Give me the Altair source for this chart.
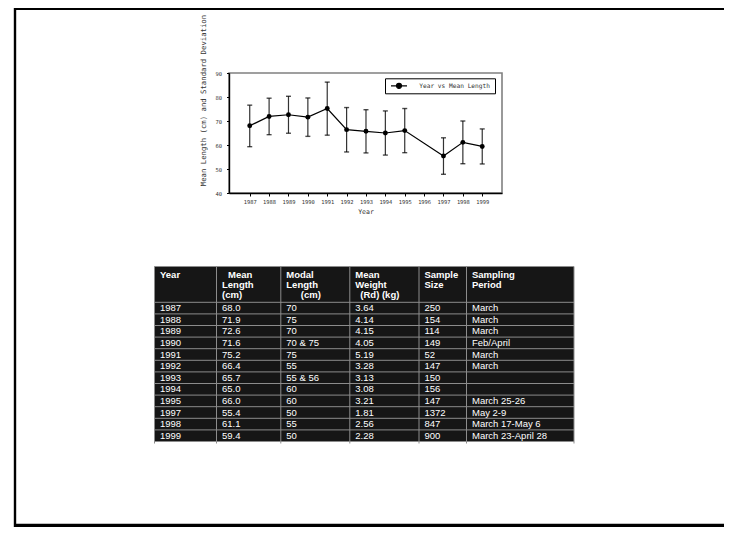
import altair as alt
import pandas as pd

# ---------------- data ----------------
years = [1987, 1988, 1989, 1990, 1991, 1992, 1993, 1994, 1995, 1997, 1998, 1999]
mean_length = [68.0, 71.9, 72.6, 71.6, 75.2, 66.4, 65.7, 65.0, 66.0, 55.4, 61.1, 59.4]
sd_upper = [76.6, 79.5, 80.3, 79.6, 86.2, 75.6, 74.7, 74.2, 75.2, 63.0, 70.0, 66.7]
sd_lower = [59.3, 64.3, 64.9, 63.6, 64.1, 57.1, 56.7, 55.8, 56.8, 47.8, 52.2, 52.1]
tick_years = [1987, 1988, 1989, 1990, 1991, 1992, 1993, 1994, 1995, 1996, 1997, 1998, 1999]
y_ticks = [40, 50, 60, 70, 80, 90]
legend_label = "Year vs Mean Length"

modal_length = ["70", "75", "70", "70 & 75", "75", "55", "55 & 56", "60", "60", "50", "55", "50"]
mean_weight = ["3.64", "4.14", "4.15", "4.05", "5.19", "3.28", "3.13", "3.08", "3.21", "1.81", "2.56", "2.28"]
sample_size = ["250", "154", "114", "149", "52", "147", "150", "156", "147", "1372", "847", "900"]
sampling_period = ["March", "March", "March", "Feb/April", "March", "March", "", "",
                   "March 25-26", "May 2-9", "March 17-May 6", "March 23-April 28"]
header_lines = [["Year"], ["Mean", "Length", "(cm)"], ["Modal", "Length", "(cm)"],
                ["Mean", "Weight", "(Rd) (kg)"], ["Sample", "Size"], ["Sampling", "Period"]]

# ---------------- layout ----------------
MONO = "DejaVu Sans Mono"
SANS = "Liberation Sans"
W, H = 716, 519
PLOT_L, PLOT_R, PLOT_T, PLOT_B = 221, 494, 65, 185
X_DOMAIN = [1985.93, 2000.02]
Y_DOMAIN = [40, 90]

col_edges = [146.5, 208.5, 272.8, 341.8, 411.0, 458.5, 566.0]
T_TOP, HDR_BOT, ROW_H = 258.5, 294.3, 11.6
N_ROWS = len(years)
T_BOT = HDR_BOT + ROW_H * N_ROWS
CELL_PAD = 5.5
HDR_LINE_Y = [267, 277, 287]
HDR_INDENT = {(1, 0): 6.0, (2, 2): 14.5, (3, 2): 5.0}
FRAME_LEFT, FRAME_TOP, FRAME_BOTTOM = 7, 1, H - 1.7

# ---------------- plot ----------------
xs = alt.Scale(domain=X_DOMAIN, range=[PLOT_L, PLOT_R], nice=False, zero=False)
ys = alt.Scale(domain=Y_DOMAIN, range=[PLOT_B, PLOT_T], nice=False, zero=False)

x_axis = alt.Axis(orient="bottom", values=tick_years, format="d", offset=-(H - PLOT_B),
                  domain=True, ticks=True, labels=True,
                  domainColor="black", domainWidth=1.4, tickColor="black", tickWidth=1,
                  tickSize=3, labelFont=MONO, labelFontSize=5.4, labelColor="#333",
                  labelPadding=3, labelFlush=False, labelOverlap=False, grid=False,
                  title="Year", titleFont=MONO, titleFontSize=6.5, titleFontWeight="normal",
                  titleColor="#333", titleY=18, titleBaseline="middle", zindex=1)
y_axis = alt.Axis(orient="left", values=y_ticks, offset=-PLOT_L,
                  domain=True, ticks=True, labels=True,
                  domainColor="black", domainWidth=1.4, tickColor="black", tickWidth=1,
                  tickSize=2.5, labelFont=MONO, labelFontSize=5.5, labelColor="#333",
                  labelPadding=5, grid=False,
                  title="Mean Length (cm) and Standard Deviation", titleFont=MONO,
                  titleFontSize=7.3, titleFontWeight="normal", titleColor="#333",
                  titleAngle=270, titleX=-26, titleY=92, titleAlign="center",
                  titleBaseline="middle", zindex=1)

df = pd.DataFrame({"year": years, "mean": mean_length, "lower": sd_lower, "upper": sd_upper,
                   "series": legend_label})
one = pd.DataFrame({"k": [0]})

X = alt.X("year:Q", scale=xs, axis=x_axis)

box = alt.Chart(one).mark_rect(fillOpacity=0, stroke="#808080", strokeWidth=1.6).encode(
    x=alt.X(datum=X_DOMAIN[0], type="quantitative", scale=xs, axis=x_axis),
    x2=alt.X2(datum=X_DOMAIN[1]),
    y=alt.Y(datum=Y_DOMAIN[0], type="quantitative", scale=ys, axis=y_axis),
    y2=alt.Y2(datum=Y_DOMAIN[1]),
)
bars = alt.Chart(df).mark_rule(color="#333", strokeWidth=1.2).encode(
    x=X, y=alt.Y("lower:Q", scale=ys, axis=y_axis), y2="upper:Q")
cap_hi = alt.Chart(df).mark_tick(orient="horizontal", size=5, thickness=1.4, color="black").encode(
    x=X, y=alt.Y("upper:Q", scale=ys, axis=y_axis))
cap_lo = alt.Chart(df).mark_tick(orient="horizontal", size=5, thickness=1.4, color="black").encode(
    x=X, y=alt.Y("lower:Q", scale=ys, axis=y_axis))
line = alt.Chart(df).mark_line(color="black", strokeWidth=1.2).encode(
    x=X, y=alt.Y("mean:Q", scale=ys, axis=y_axis))

# legend symbol: short line with a dot; trailing move widens the legend box
SYMBOL = ("M-2,0L2,0M-0.62,0A0.62,0.62,0,1,1,0.62,0A0.62,0.62,0,1,1,-0.62,0ZM22.6,0")
leg = alt.Legend(title=None, orient="none", legendX=377, legendY=70.3, padding=2.5,
                 strokeColor="black", fillColor="white", symbolType=SYMBOL, symbolSize=64,
                 symbolOffset=6.5, symbolStrokeColor="black", symbolStrokeWidth=1.2,
                 symbolFillColor="black", labelOffset=15.2, labelFont=MONO,
                 labelFontSize=6.2, labelColor="#333")
pts = alt.Chart(df).mark_circle(size=24, opacity=1).encode(
    x=X, y=alt.Y("mean:Q", scale=ys, axis=y_axis),
    color=alt.Color("series:N", scale=alt.Scale(range=["black"]), legend=leg))

plot = alt.layer(box, bars, cap_hi, cap_lo, line, pts)

# ---------------- table ----------------
px = alt.Scale(domain=[0, W], range=[0, W], nice=False, zero=False)
py = alt.Scale(domain=[0, H], range=[0, H], nice=False, zero=False)

bg_df = pd.DataFrame({"x": [col_edges[0]], "x2": [col_edges[-1]], "y": [T_TOP], "y2": [T_BOT]})
bg = alt.Chart(bg_df).mark_rect(color="#161616").encode(
    x=alt.X("x:Q", scale=px, axis=None), x2="x2:Q",
    y=alt.Y("y:Q", scale=py, axis=None), y2="y2:Q")

h_ys = [T_TOP, HDR_BOT] + [HDR_BOT + ROW_H * k for k in range(1, N_ROWS)] + [T_BOT]
hl_df = pd.DataFrame({"y": h_ys, "x": col_edges[0], "x2": col_edges[-1]})
hlines = alt.Chart(hl_df).mark_rule(color="#8c8c8c", strokeWidth=1).encode(
    x=alt.X("x:Q", scale=px, axis=None), x2="x2:Q", y=alt.Y("y:Q", scale=py, axis=None))
vl_df = pd.DataFrame({"x": col_edges, "y": T_TOP, "y2": T_BOT + 2})
vlines = alt.Chart(vl_df).mark_rule(color="#8c8c8c", strokeWidth=1).encode(
    x=alt.X("x:Q", scale=px, axis=None), y=alt.Y("y:Q", scale=py, axis=None), y2="y2:Q")

hdr_rows = []
for j, lines in enumerate(header_lines):
    for k, t in enumerate(lines):
        hdr_rows.append({"t": t, "x": col_edges[j] + CELL_PAD + HDR_INDENT.get((j, k), 0.0),
                         "y": HDR_LINE_Y[k]})
hdr = alt.Chart(pd.DataFrame(hdr_rows)).mark_text(
    align="left", baseline="middle", font=SANS, fontSize=9.5, fontWeight="bold", color="white").encode(
    x=alt.X("x:Q", scale=px, axis=None), y=alt.Y("y:Q", scale=py, axis=None), text="t:N")

cols = [[str(y) for y in years], [f"{v:.1f}" for v in mean_length], modal_length,
        mean_weight, sample_size, sampling_period]
cell_rows = []
for j, col in enumerate(cols):
    for i, t in enumerate(col):
        if t:
            cell_rows.append({"t": t, "x": col_edges[j] + CELL_PAD,
                              "y": HDR_BOT + ROW_H * (i + 0.5)})
cells = alt.Chart(pd.DataFrame(cell_rows)).mark_text(
    align="left", baseline="middle", font=SANS, fontSize=9.5, color="white").encode(
    x=alt.X("x:Q", scale=px, axis=None), y=alt.Y("y:Q", scale=py, axis=None), text="t:N")

# page frame (left, top, bottom)
fr_v = pd.DataFrame({"x": [FRAME_LEFT], "y": [0], "y2": [H]})
frame_v = alt.Chart(fr_v).mark_rule(color="black", strokeWidth=2.4).encode(
    x=alt.X("x:Q", scale=px, axis=None), y=alt.Y("y:Q", scale=py, axis=None), y2="y2:Q")
fr_h = pd.DataFrame({"y": [FRAME_TOP, FRAME_BOTTOM], "w": [2.2, 3.3],
                     "x": [FRAME_LEFT - 1, FRAME_LEFT - 1], "x2": [W, W]})
frame_h = alt.Chart(fr_h).mark_rule(color="black").encode(
    x=alt.X("x:Q", scale=px, axis=None), x2="x2:Q", y=alt.Y("y:Q", scale=py, axis=None),
    strokeWidth=alt.StrokeWidth("w:Q", scale=None))

table = alt.layer(bg, hlines, vlines, hdr, cells, frame_v, frame_h)

chart = alt.layer(plot, table).resolve_scale(
    x="independent", y="independent", color="independent", strokeWidth="independent"
).properties(
    width=W, height=H, padding=0, autosize=alt.AutoSizeParams(type="none"),
    view=alt.ViewBackground(stroke="transparent", strokeWidth=0),
).configure_view(stroke="transparent", strokeWidth=0).configure_axis(
    domain=False, ticks=False, labels=False, grid=False
)

chart.save("out.html", embed_options={"renderer": "svg", "actions": False})
